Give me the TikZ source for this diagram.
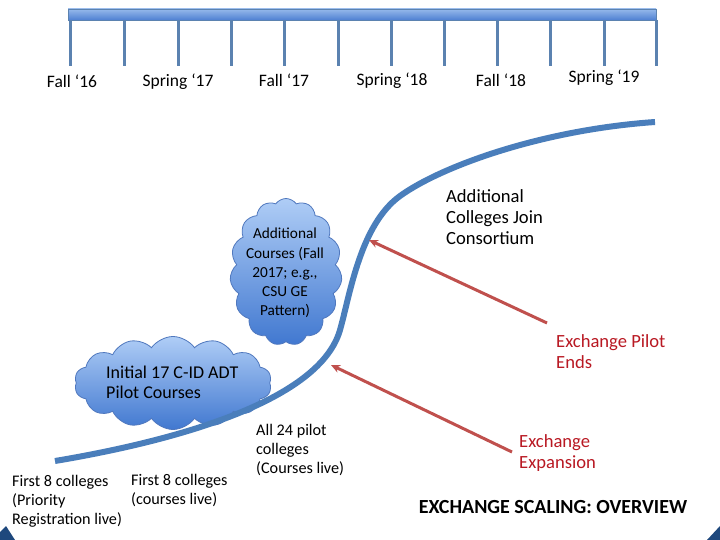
\documentclass[tikz,border=0pt]{standalone}
\usepackage{fontspec}
\setmainfont{Carlito}
\usetikzlibrary{shapes.symbols,arrows.meta}
\definecolor{curveblue}{RGB}{74,126,187}
\definecolor{tickblue}{RGB}{91,130,176}
\definecolor{barlight}{RGB}{150,185,235}
\definecolor{bardark}{RGB}{78,128,210}
\definecolor{cloudlight}{RGB}{175,205,246}
\definecolor{clouddark}{RGB}{65,120,208}
\definecolor{cloudedge}{RGB}{80,120,190}
\definecolor{arrowred}{RGB}{192,80,77}
\definecolor{textred}{RGB}{185,25,35}
\definecolor{cornerblue}{RGB}{30,72,125}
\tikzset{
  tick/.style={draw=tickblue,line width=3pt},
  period/.style={font={\fontsize{17.5}{21}\selectfont},inner sep=0pt},
  lbl/.style={font={\fontsize{18.6}{21.3}\selectfont},align=left,anchor=north west,inner sep=0pt},
  small/.style={font={\fontsize{16.2}{19}\selectfont},align=left,anchor=north west,inner sep=0pt},
  redlbl/.style={lbl,text=textred},
  puff/.style={cloud,cloud ignores aspect,draw=cloudedge,line width=0.8pt,top color=cloudlight,bottom color=clouddark},
  pointer/.style={draw=arrowred,line width=3pt,-{Stealth[length=9pt,width=8pt]}},
}
\begin{document}
\begin{tikzpicture}[x=1pt,y=-1pt]
\useasboundingbox[fill=white] (0,0) rectangle (720,540);
% timeline ticks
\foreach \i/\xx in {1/70,2/124,3/178,4/231,5/284,6/338,7/391,8/444,9/497,10/550,11/604,12/656}{
  \coordinate (t\i top) at (\xx,20);
  \coordinate (t\i bot) at (\xx,66);
  \draw[tick] (t\i top) -- (t\i bot);
}
\node[draw=tickblue,line width=0.6pt,top color=barlight,bottom color=bardark,minimum width=588pt,minimum height=11pt,inner sep=0pt] (bar) at (362,14.5) {};
% period labels
\node[period] (f16) at (72,81) {Fall ‘16};
\node[period] (s17) at (178,82) {Spring ‘17};
\node[period] (f17) at (284,80) {Fall ‘17};
\node[period] (s18) at (392,81) {Spring ‘18};
\node[period] (f18) at (501,80) {Fall ‘18};
\node[period] (s19) at (604,78) {Spring ‘19};
% clouds
\node[puff,cloud puffs=15,cloud puff arc=110,minimum width=112pt,minimum height=147pt] (cloudA) at (286,272) {};
\node[puff,cloud puffs=14,cloud puff arc=110,minimum width=197pt,minimum height=93pt] (cloudB) at (173,383) {};
\node[font={\fontsize{15.3}{19.2}\selectfont},align=center,inner sep=0pt] (cloudAtext) at (285,273) {Additional\\Courses (Fall\\2017; e.g.,\\CSU GE\\Pattern)};
\node[lbl,font={\fontsize{18}{20}\selectfont}] (cloudBtext) at (106,366) {Initial 17 C-ID ADT\\Pilot Courses};
% S curve
\draw[curveblue,line width=6pt] (55,461) .. controls (180,440) and (320,400) .. (340,330)
  .. controls (350,295) and (360,225) .. (400,196)
  .. controls (440,167) and (540,130) .. (655,122);
% texts
\node[lbl] (addcol) at (446,189) {Additional\\Colleges Join\\Consortium};
\node[redlbl] (pilotends) at (556,334) {Exchange Pilot\\Ends};
\node[redlbl] (expansion) at (519,434) {Exchange\\Expansion};
\node[font={\fontsize{20}{22}\bfseries\selectfont},inner sep=0pt] (title) at (553,507) {EXCHANGE SCALING: OVERVIEW};
\node[small] (all24) at (256,424) {All 24 pilot\\colleges\\(Courses live)};
\node[small] (first8b) at (131,474) {First 8 colleges\\(courses live)};
\node[small] (first8a) at (12,475) {First 8 colleges\\(Priority\\Registration live)};
% arrows
\coordinate (tailA) at (547,323);
\coordinate (headA) at (369,240);
\coordinate (tailB) at (512,452);
\coordinate (headB) at (331,365);
\draw[pointer] (tailA) -- (headA);
\draw[pointer] (tailB) -- (headB);
% corners
\fill[cornerblue] (0,540) -- (0,532) .. controls (3,529) .. (6,526) -- (15,540) -- cycle;
\fill[cornerblue] (707,540) -- (720,526) -- (720,540) -- cycle;
\end{tikzpicture}
\end{document}
